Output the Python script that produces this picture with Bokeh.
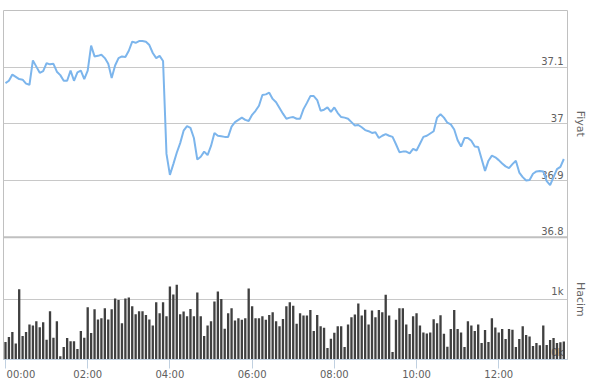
import pandas as pd
from bokeh.plotting import figure
from bokeh.models import Range1d, Grid, FixedTicker, Span, LinearAxis
from bokeh.embed import file_html
from bokeh.resources import INLINE
from bokeh.core.properties import value

# ---------------- data (5-minute steps from 00:00) ----------------
price = [
    37.072, 37.076, 37.087, 37.083, 37.079, 37.078, 37.071, 37.069, 37.112, 37.101,
    37.090, 37.093, 37.107, 37.105, 37.106, 37.092, 37.086, 37.076, 37.076, 37.094,
    37.076, 37.091, 37.094, 37.079, 37.094, 37.138, 37.119, 37.120, 37.122, 37.116,
    37.106, 37.081, 37.103, 37.116, 37.119, 37.118, 37.129, 37.145, 37.143, 37.146,
    37.146, 37.145, 37.139, 37.125, 37.116, 37.120, 37.111, 36.947, 36.910, 36.929,
    36.949, 36.966, 36.988, 36.996, 36.993, 36.975, 36.937, 36.942, 36.951, 36.945,
    36.961, 36.984, 36.979, 36.978, 36.977, 36.977, 36.995, 37.003, 37.007, 37.011,
    37.007, 37.005, 37.016, 37.023, 37.032, 37.051, 37.052, 37.055, 37.044, 37.038,
    37.028, 37.018, 37.009, 37.011, 37.012, 37.009, 37.009, 37.026, 37.037, 37.049,
    37.049, 37.042, 37.023, 37.025, 37.029, 37.021, 37.029, 37.019, 37.012, 37.011,
    37.009, 37.003, 36.997, 36.998, 36.994, 36.989, 36.987, 36.984, 36.985, 36.975,
    36.979, 36.982, 36.979, 36.977, 36.964, 36.950, 36.951, 36.951, 36.948, 36.956,
    36.953, 36.965, 36.977, 36.979, 36.983, 36.987, 37.011, 37.017, 37.011, 37.002,
    36.999, 36.990, 36.971, 36.960, 36.975, 36.975, 36.970, 36.960, 36.959, 36.938,
    36.917, 36.935, 36.944, 36.941, 36.936, 36.930, 36.925, 36.922, 36.929, 36.935,
    36.914, 36.906, 36.900, 36.901, 36.912, 36.916, 36.917, 36.916, 36.899, 36.892,
    36.906, 36.920, 36.924, 36.938,
]

volume = [
    291, 373, 456, 264, 1169, 390, 456, 582, 565, 637,
    538, 620, 329, 801, 362, 637, 55, 209, 357, 302,
    302, 176, 472, 362, 867, 439, 834, 664, 686, 851,
    664, 834, 1016, 988, 604, 1016, 1032, 884, 752, 801,
    801, 741, 664, 565, 950, 769, 950, 719, 1213, 1082,
    1241, 752, 796, 719, 840, 719, 1115, 719, 390, 565,
    637, 966, 1131, 1005, 511, 769, 851, 648, 686, 659,
    686, 1180, 884, 686, 686, 719, 659, 741, 785, 637,
    554, 675, 884, 950, 895, 593, 769, 730, 730, 824,
    472, 741, 554, 527, 192, 346, 445, 554, 554, 209,
    582, 703, 747, 933, 730, 829, 582, 813, 703, 824,
    785, 1076, 730, 126, 659, 851, 851, 582, 423, 719,
    769, 565, 450, 434, 450, 670, 604, 736, 428, 214,
    505, 824, 505, 450, 209, 637, 565, 472, 582, 275,
    489, 291, 686, 533, 450, 505, 340, 505, 494, 209,
    340, 554, 406, 384, 225, 275, 236, 565, 242, 324,
    357, 275, 285, 300,
]

price_ticks = [36.8, 36.9, 37.0, 37.1]
price_tick_labels = ["36.8", "36.9", "37", "37.1"]
volume_ticks = [0, 1000]
volume_tick_labels = ["0k", "1k"]
time_tick_hours = [0, 2, 4, 6, 8, 10, 12]
time_tick_labels = ["00:00", "02:00", "04:00", "06:00", "08:00", "10:00", "12:00"]
pane_titles = ["Fiyat", "Hacim"]

# ---------------- layout ----------------
W, H = 589, 382
FL, FR, FT, FB = 3, 569, 10, 361          # frame edges in px
PRICE_BOTTOM_PX, VOL_TOP_PX = 238, 240
PX_PER_HOUR = 41.25
FIRST_TICK_PX = 5
FIRST_LABEL_CENTER_PX = 20.5              # "00:00" is pushed inside the chart

MS_H = 3600 * 1000
start = pd.Timestamp("2024-01-01 00:00")
t0 = start.value / 1e6
times = [t0 + i * 5 * 60 * 1000 for i in range(len(price))]

x_start = t0 - (FIRST_TICK_PX - FL) / PX_PER_HOUR * MS_H
x_end = x_start + (FR - FL) / PX_PER_HOUR * MS_H

p_lo, p_hi = 36.8, 37.2
price_start = p_lo - (p_hi - p_lo) * (FB - PRICE_BOTTOM_PX) / (PRICE_BOTTOM_PX - FT)
vol_end = 2000 * (FB - FT) / (FB - VOL_TOP_PX)

p = figure(width=W, height=H,
           x_range=Range1d(x_start, x_end), y_range=Range1d(price_start, p_hi),
           output_backend="svg", toolbar_location=None,
           x_axis_location=None, y_axis_location=None,
           min_border_left=FL, min_border_right=W - FR, min_border_top=FT,
           min_border_bottom=H - FB, outline_line_color="#C0C0C0",
           background_fill_color="white", border_fill_color="white")
p.extra_y_ranges = {"vol": Range1d(0, vol_end)}
# drop the default grids; add our own
p.center = [r for r in p.center if not isinstance(r, Grid)]

GRID = "#C8C8C8"
p.add_layout(Grid(dimension=1, ticker=FixedTicker(ticks=price_ticks[1:]),
                  grid_line_color=GRID))
p.add_layout(Grid(dimension=1, ticker=FixedTicker(ticks=[volume_ticks[1]]),
                  y_range_name="vol", grid_line_color=GRID))
p.add_layout(Span(location=price_ticks[0], dimension="width",
                  line_color="#C0C0C0", line_width=2))

FONT = "DejaVu Sans"
LBL = "#606060"

# ---- x axis: tick marks as minor ticks, labels on (shifted) major ticks ----
tick_pos = [t0 + h * MS_H for h in time_tick_hours]
label_pos = list(tick_pos)
label_pos[0] = tick_pos[0] + (FIRST_LABEL_CENTER_PX - FIRST_TICK_PX) / PX_PER_HOUR * MS_H
xax = LinearAxis(ticker=FixedTicker(ticks=label_pos, minor_ticks=tick_pos),
                 major_label_overrides={pos: lab for pos, lab in zip(label_pos, time_tick_labels)},
                 axis_line_color="#C0D0E0",
                 major_tick_line_color=None, major_tick_out=9, major_tick_in=0,
                 minor_tick_line_color="#C0D0E0", minor_tick_out=9, minor_tick_in=0,
                 major_label_standoff=0, major_label_text_font=FONT,
                 major_label_text_line_height=0.9,
                 major_label_text_font_size="10px", major_label_text_color=LBL)
p.add_layout(xax, "below")

# ---- right side: pane titles (Fiyat centred on price pane, Hacim on volume pane) ----
hacim_pos = price_start + (volume_ticks[1] / vol_end) * (p_hi - price_start)
title_pos = [(p_lo + p_hi) / 2, hacim_pos]
yax = LinearAxis(ticker=FixedTicker(ticks=title_pos),
                 major_label_overrides={pos: t for pos, t in zip(title_pos, pane_titles)},
                 major_label_orientation="parallel",
                 axis_line_color=None, major_tick_line_color=None,
                 minor_tick_line_color=None, major_tick_out=0, major_tick_in=0,
                 major_label_standoff=6, major_label_text_font=FONT,
                 major_label_text_font_size="11px", major_label_text_color="#666666")
p.add_layout(yax, "right")

# y tick labels inside the plot (drawn under the series)
p.text(x=[x_end] * len(price_ticks), y=price_ticks, text=price_tick_labels,
       text_align="right", text_baseline="bottom", x_offset=-4, y_offset=-2,
       text_font=value(FONT), text_font_size="10px", text_color=LBL)
p.text(x=[x_end] * len(volume_ticks), y=volume_ticks, text=volume_tick_labels,
       y_range_name="vol", text_align="right", text_baseline="bottom",
       x_offset=-4, y_offset=-2,
       text_font=value(FONT), text_font_size="10px", text_color=LBL)

p.vbar(x=times, top=volume, width=0.68 * 5 * 60 * 1000, bottom=0,
       y_range_name="vol", fill_color="#404040", line_color=None)
p.line(times, price, line_color="#7cb5ec", line_width=2)

open("out.html", "w").write(file_html(p, INLINE))
